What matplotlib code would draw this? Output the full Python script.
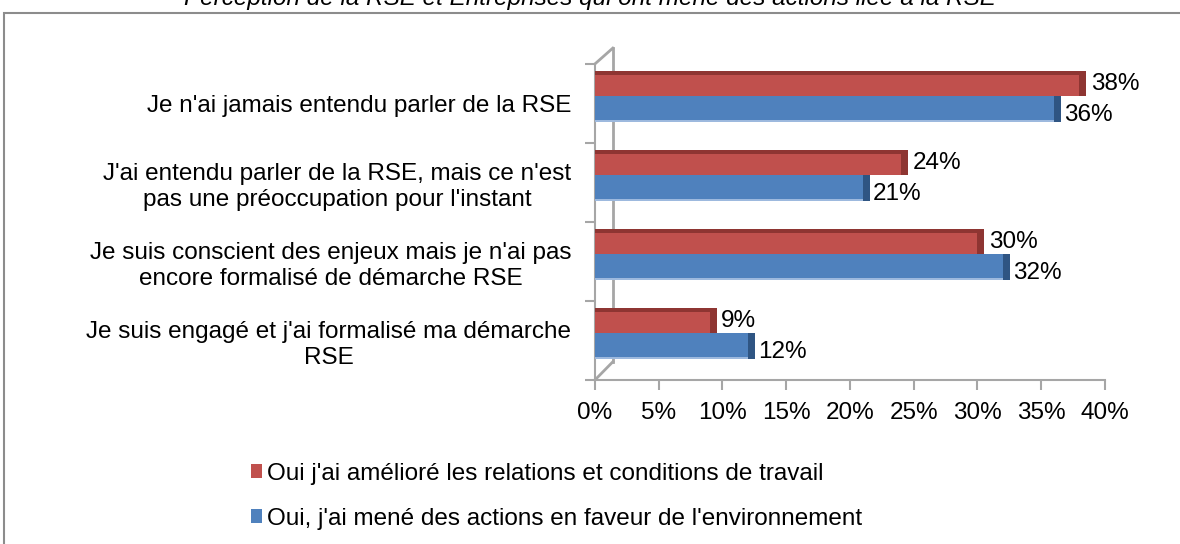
import numpy as np
import matplotlib
matplotlib.use('Agg')
import matplotlib.pyplot as plt
from matplotlib.patches import Rectangle

plt.rcParams['font.family'] = ['Liberation Sans', 'DejaVu Sans']

# données
categories = [
    "Je n'ai jamais entendu parler de la RSE",
    "J'ai entendu parler de la RSE, mais ce n'est\npas une préoccupation pour l'instant",
    "Je suis conscient des enjeux mais je n'ai pas\nencore formalisé de démarche RSE",
    "Je suis engagé et j'ai formalisé ma démarche\nRSE",
]
travail = [38, 24, 30, 9]
environnement = [36, 21, 32, 12]
serie_noms = ["Oui j'ai amélioré les relations et conditions de travail",
              "Oui, j'ai mené des actions en faveur de l'environnement"]
xticks = [0, 5, 10, 15, 20, 25, 30, 35, 40]

rouge, rouge_f = '#C0504D', '#8E3532'
bleu, bleu_f = '#4F81BD', '#2F5583'
gris = '#A6A6A6'
fs = 17.5

fig = plt.figure(figsize=(11.8, 5.44), dpi=100)
ax = fig.add_axes([0.5042, 0.3015, 0.4322, 0.581])

n = len(categories)
y = np.arange(n)[::-1].astype(float)  # haut -> bas
h = 0.32
y_r = y + 0.09 + h / 2
y_b = y + 0.09 - h / 2

ax.barh(y_r, travail, height=h, color=rouge, label=serie_noms[0], zorder=3)
ax.barh(y_b, environnement, height=h, color=bleu, label=serie_noms[1], zorder=3)
# effet 3D : face latérale et dessus
ax.barh(y_r, 0.55, left=travail, height=h, color=rouge_f, zorder=3)
ax.barh(y_b, 0.55, left=environnement, height=h, color=bleu_f, zorder=3)
ax.barh(y_r + h / 2 - 0.025, travail, height=0.05, color=rouge_f, zorder=4)
ax.barh(y_b - h / 2 + 0.01, environnement, height=0.02, color='#9DB9DE', zorder=4)

for yy, v in zip(y_r, travail):
    ax.text(v + 0.9, yy + 0.0, f'{v}%', va='center', ha='left', fontsize=fs, zorder=5)
for yy, v in zip(y_b, environnement):
    ax.text(v + 0.8, yy - 0.08, f'{v}%', va='center', ha='left', fontsize=fs, zorder=5)

ax.set_xlim(0, 40)
ax.set_ylim(-0.5, n - 0.5)
ax.set_xticks(xticks)
ax.set_xticklabels([f'{t}%' for t in xticks], fontsize=fs)
ax.set_yticks(np.arange(-0.5, n, 1.0))
ax.set_yticklabels([])
ax.set_yticks(y, minor=True)
ax.set_yticklabels(categories, minor=True, fontsize=fs, ha='right', multialignment='center',
                   linespacing=1.25)
ax.tick_params(axis='y', which='minor', length=0, pad=17)
ax.tick_params(axis='y', which='major', length=7, color=gris, width=1.5)
ax.tick_params(axis='x', length=7, color=gris, width=1.5, pad=9)
for s in ['top', 'right']:
    ax.spines[s].set_visible(False)
for s in ['left', 'bottom']:
    ax.spines[s].set_color(gris)
    ax.spines[s].set_linewidth(1.5)

# paroi arrière 3D
ax.plot([0, 1.4], [-0.5, -0.27], color=gris, lw=2, clip_on=False, zorder=2)
ax.plot([1.4, 1.4], [-0.27, n - 0.5 + 0.2], color=gris, lw=2, clip_on=False, zorder=2)
ax.plot([0, 1.4], [n - 0.5, n - 0.5 + 0.2], color=gris, lw=2, clip_on=False, zorder=2)

leg = fig.legend(loc='upper left', bbox_to_anchor=(0.194, 0.19), ncol=1, frameon=False,
                 fontsize=fs, handlelength=0.45, handleheight=0.5, handletextpad=0.2,
                 labelspacing=0.95)

fig.text(0.5, 1.0 + 2 / 544, "Perception de la RSE et Entreprises qui ont mené des actions liée à la RSE",
         ha='center', va='center', fontsize=fs, style='italic')

fig.patches.append(Rectangle((4 / 1180, -0.01), 1.1, 1 - 13 / 544 + 0.01, transform=fig.transFigure,
                             fill=False, edgecolor='#8C8C8C', lw=1.5))

fig.savefig('out.png', dpi=100)
